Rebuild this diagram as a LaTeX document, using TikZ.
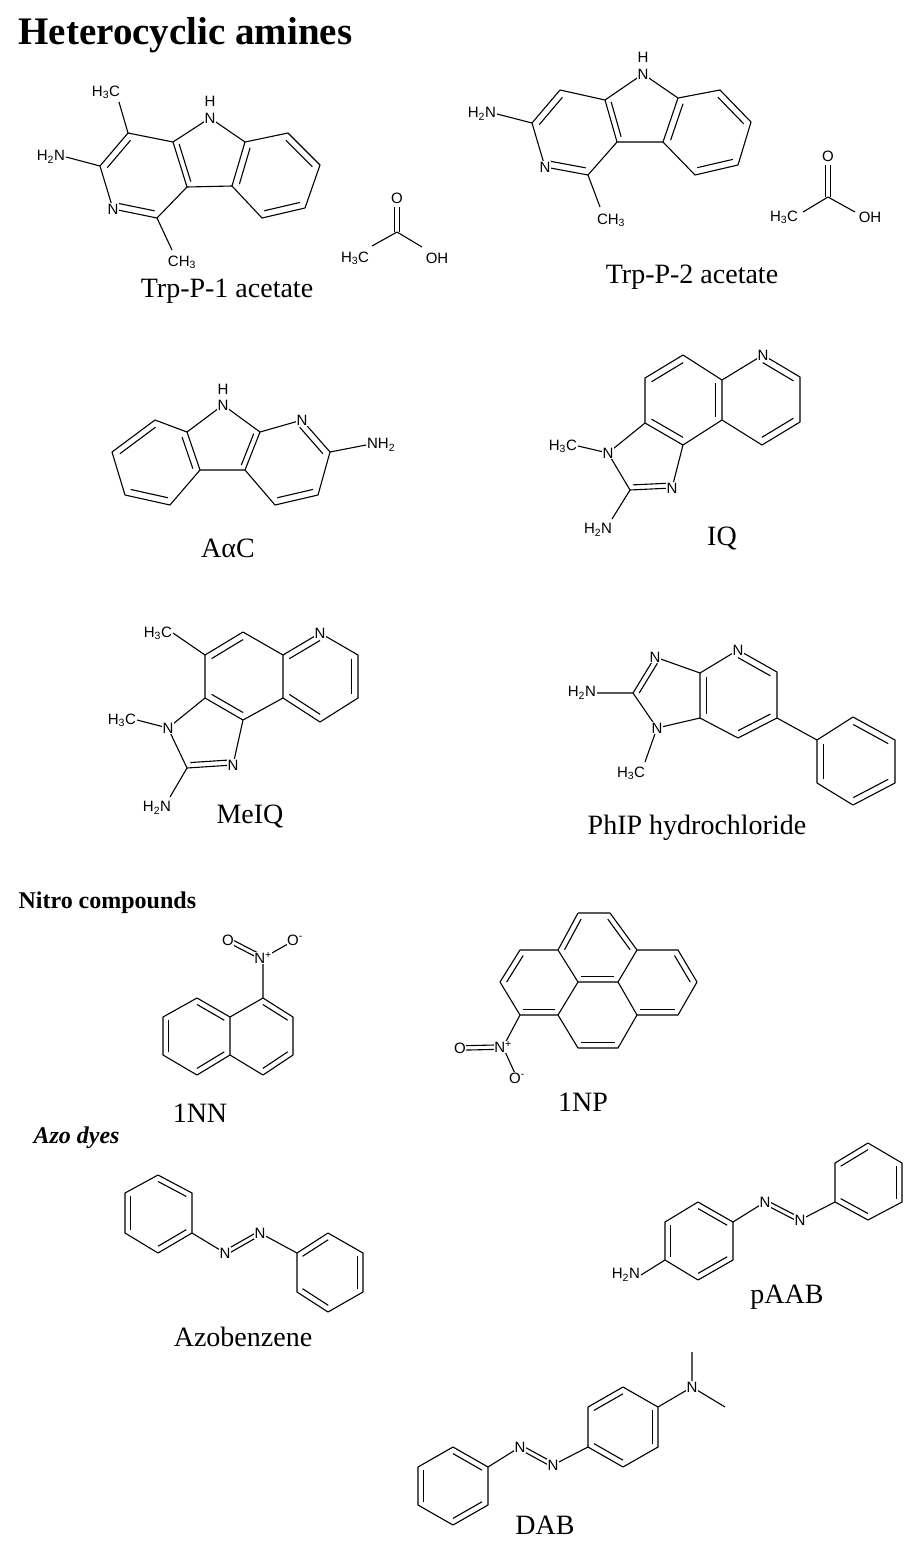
\documentclass[tikz,border=0pt]{standalone}
\usepackage{fontspec}
\setmainfont{Liberation Serif}
\newfontfamily\atomf{Liberation Sans}
\usetikzlibrary{calc}
\newcommand\db[3]{\draw ($(#1)!0.17!(#3)$) -- ($(#2)!0.17!(#3)$);}
\newcommand\dxc[2]{\draw ($(#1)!2.2pt!90:(#2)$)--($(#2)!2.2pt!-90:(#1)$); \draw ($(#1)!2.2pt!-90:(#2)$)--($(#2)!2.2pt!90:(#1)$);}
\begin{document}
\begin{tikzpicture}[x=1pt,y=-1pt,line width=1.1pt,line join=round,
  atom/.style={font=\atomf\fontsize{15}{15}\selectfont, inner sep=0.6pt, fill=white},
  mname/.style={font=\fontsize{28}{28}\selectfont, inner sep=0pt},
  mhead/.style={font=\bfseries\fontsize{24}{24}\selectfont, inner sep=0pt, anchor=west}]
\useasboundingbox (0,0) rectangle (923,1564);
\node[font=\bfseries\fontsize{39}{39}\selectfont, inner sep=0pt, anchor=west] (title) at (18,35) {Heterocyclic amines};

% ---------- Trp-P-1 ----------
\coordinate (a1) at (128,133); \coordinate (a2) at (100,166); \coordinate (a3) at (113,209);
\coordinate (a4) at (157,218); \coordinate (a5) at (187,187); \coordinate (a6) at (173,142);
\coordinate (a7) at (210,118); \coordinate (a8) at (245,142); \coordinate (a9) at (232,186);
\coordinate (b1) at (288,133); \coordinate (b2) at (320,165); \coordinate (b3) at (305,208); \coordinate (b4) at (262,218);
\coordinate (ac1) at (barycentric cs:a1=1,a2=1,a3=1,a4=1,a5=1,a6=1);
\coordinate (ac2) at (barycentric cs:a5=1,a6=1,a7=1,a8=1,a9=1);
\coordinate (ac3) at (barycentric cs:a8=1,a9=1,b1=1,b2=1,b3=1,b4=1);
\draw (a1)--(a2)--(a3)--(a4)--(a5)--(a6)--cycle (a6)--(a7)--(a8)--(a9)--(a5) (a8)--(b1)--(b2)--(b3)--(b4)--(a9);
\db{a1}{a2}{ac1}\db{a3}{a4}{ac1}\db{a5}{a6}{ac2}\db{a8}{a9}{ac3}\db{b1}{b2}{ac3}\db{b3}{b4}{ac3}
\coordinate (tm1) at (119,102); \coordinate (tn1) at (66,157); \coordinate (tm2) at (172,250);
\draw (a1)--(tm1) (a2)--(tn1) (a4)--(tm2);
\node[atom] (tN1) at (a7) {N}; \node[atom] (tH1) at (210,101) {H};
\node[atom] at (a3) {N};
\node[atom] (tm1l) at (106,92) {H\textsubscript{3}C};
\node[atom,anchor=east] (tn1l) at (tn1) {H\textsubscript{2}N};
\node[atom] (tm2l) at (182,262) {CH\textsubscript{3}};
% acetic acid 1
\coordinate (x1) at (397,232); \coordinate (x1o) at (397,207); \coordinate (x1m) at (372,246); \coordinate (x1h) at (422,247);
\dxc{x1}{x1o}\draw (x1m)--(x1)--(x1h);
\node[atom] at (397,198) {O}; \node[atom] at (355,258) {H\textsubscript{3}C}; \node[atom] at (437,258) {OH};
\node[mname] (n1) at (227,291) {Trp-P-1 acetate};

% ---------- Trp-P-2 ----------
\coordinate (p1) at (560,90); \coordinate (p2) at (532,123); \coordinate (p3) at (545,167);
\coordinate (p4) at (588,175); \coordinate (p5) at (617,142); \coordinate (p6) at (605,100);
\coordinate (p7) at (643,74); \coordinate (p8) at (678,98); \coordinate (p9) at (663,142);
\coordinate (q1) at (720,90); \coordinate (q2) at (751,122); \coordinate (q3) at (738,165); \coordinate (q4) at (695,175);
\coordinate (pc1) at (barycentric cs:p1=1,p2=1,p3=1,p4=1,p5=1,p6=1);
\coordinate (pc2) at (barycentric cs:p5=1,p6=1,p7=1,p8=1,p9=1);
\coordinate (pc3) at (barycentric cs:p8=1,p9=1,q1=1,q2=1,q3=1,q4=1);
\draw (p1)--(p2)--(p3)--(p4)--(p5)--(p6)--cycle (p6)--(p7)--(p8)--(p9)--(p5) (p8)--(q1)--(q2)--(q3)--(q4)--(p9);
\db{p1}{p2}{pc1}\db{p3}{p4}{pc1}\db{p5}{p6}{pc2}\db{p8}{p9}{pc3}\db{q1}{q2}{pc3}\db{q3}{q4}{pc3}
\coordinate (tn2) at (497,114); \coordinate (tm3) at (600,207);
\draw (p2)--(tn2) (p4)--(tm3);
\node[atom] at (p7) {N}; \node[atom] at (643,57) {H}; \node[atom] at (p3) {N};
\node[atom,anchor=east] at (tn2) {H\textsubscript{2}N};
\node[atom] at (611,220) {CH\textsubscript{3}};
% acetic acid 2
\coordinate (x2) at (828,197); \coordinate (x2o) at (828,165); \coordinate (x2m) at (803,212); \coordinate (x2h) at (855,212);
\dxc{x2}{x2o}\draw (x2m)--(x2)--(x2h);
\node[atom] at (828,156) {O}; \node[atom] at (784,217) {H\textsubscript{3}C}; \node[atom] at (870,217) {OH};
\node[mname] (n2) at (692,277) {Trp-P-2 acetate};

% ---------- AaC ----------
\coordinate (r1) at (155,420); \coordinate (r2) at (187,432); \coordinate (r3) at (200,470);
\coordinate (r4) at (170,505); \coordinate (r5) at (125,495); \coordinate (r6) at (112,452);
\coordinate (rN) at (223,405); \coordinate (s1) at (260,432); \coordinate (s2) at (245,470);
\coordinate (sN) at (302,420); \coordinate (s3) at (330,452); \coordinate (s4) at (318,495); \coordinate (s5) at (275,505);
\coordinate (rc1) at (barycentric cs:r1=1,r2=1,r3=1,r4=1,r5=1,r6=1);
\coordinate (rc2) at (barycentric cs:r2=1,r3=1,rN=1,s1=1,s2=1);
\coordinate (rc3) at (barycentric cs:s1=1,s2=1,sN=1,s3=1,s4=1,s5=1);
\draw (r1)--(r2)--(r3)--(r4)--(r5)--(r6)--cycle (r2)--(rN)--(s1)--(s2)--(r3) (s1)--(sN)--(s3)--(s4)--(s5)--(s2);
\db{r1}{r6}{rc1}\db{r2}{r3}{rc1}\db{r4}{r5}{rc1}\db{s1}{s2}{rc2}\db{sN}{s3}{rc3}\db{s4}{s5}{rc3}
\coordinate (an) at (366,445); \draw (s3)--(an);
\node[atom] at (rN) {N}; \node[atom] at (223,389) {H}; \node[atom] at (sN) {N};
\node[atom,anchor=west] at (an) {NH\textsubscript{2}};
\node[mname] at (228,548) {AαC};

% ---------- IQ ----------
\coordinate (i1) at (645,378); \coordinate (i2) at (683,355); \coordinate (i3) at (722,380);
\coordinate (i4) at (722,420); \coordinate (i5) at (683,445); \coordinate (i6) at (645,423);
\coordinate (iN) at (763,355); \coordinate (j2) at (800,377); \coordinate (j3) at (800,422); \coordinate (j4) at (762,445);
\coordinate (in1) at (608,453); \coordinate (ic2) at (630,490); \coordinate (in3) at (672,488);
\coordinate (ic1) at (barycentric cs:i1=1,i2=1,i3=1,i4=1,i5=1,i6=1);
\coordinate (icp) at (barycentric cs:i3=1,iN=1,j2=1,j3=1,j4=1,i4=1);
\coordinate (ici) at (barycentric cs:i5=1,i6=1,in1=1,ic2=1,in3=1);
\draw (i1)--(i2)--(i3)--(i4)--(i5)--(i6)--cycle (i3)--(iN)--(j2)--(j3)--(j4)--(i4) (i6)--(in1)--(ic2)--(in3)--(i5);
\db{i1}{i2}{ic1}\db{i3}{i4}{ic1}\db{i5}{i6}{ic1}\db{iN}{j2}{icp}\db{j3}{j4}{icp}\db{ic2}{in3}{ici}
\coordinate (im) at (578,446); \coordinate (ia) at (612,519);
\draw (in1)--(im) (ic2)--(ia);
\node[atom] at (iN) {N}; \node[atom] at (in1) {N}; \node[atom] at (in3) {N};
\node[atom,anchor=east] at (im) {H\textsubscript{3}C};
\node[atom] at (598,530) {H\textsubscript{2}N};
\node[mname] at (722,538) {IQ};

% ---------- MeIQ ----------
\coordinate (m1) at (205,655); \coordinate (m2) at (243,632); \coordinate (m3) at (283,655);
\coordinate (m4) at (283,698); \coordinate (m5) at (243,720); \coordinate (m6) at (205,698);
\coordinate (mN) at (320,633); \coordinate (n2) at (358,655); \coordinate (n3) at (358,698); \coordinate (n4) at (320,722);
\coordinate (mn1) at (168,728); \coordinate (mc2) at (187,768); \coordinate (mn3) at (233,765);
\coordinate (mc1) at (barycentric cs:m1=1,m2=1,m3=1,m4=1,m5=1,m6=1);
\coordinate (mcp) at (barycentric cs:m3=1,mN=1,n2=1,n3=1,n4=1,m4=1);
\coordinate (mci) at (barycentric cs:m5=1,m6=1,mn1=1,mc2=1,mn3=1);
\draw (m1)--(m2)--(m3)--(m4)--(m5)--(m6)--cycle (m3)--(mN)--(n2)--(n3)--(n4)--(m4) (m6)--(mn1)--(mc2)--(mn3)--(m5);
\db{m1}{m2}{mc1}\db{m5}{m6}{mc1}\db{m3}{mN}{mcp}\db{n2}{n3}{mcp}\db{n4}{m4}{mcp}\db{mc2}{mn3}{mci}
\coordinate (mm1) at (173,633); \coordinate (mm2) at (137,720); \coordinate (ma) at (170,797);
\draw (m1)--(mm1) (mn1)--(mm2) (mc2)--(ma);
\node[atom] at (mN) {N}; \node[atom] at (mn1) {N}; \node[atom] at (mn3) {N};
\node[atom,anchor=east] at (mm1) {H\textsubscript{3}C};
\node[atom,anchor=east] at (mm2) {H\textsubscript{3}C};
\node[atom] at (157,808) {H\textsubscript{2}N};
\node[mname] at (250,816) {MeIQ};

% ---------- PhIP ----------
\coordinate (pn3) at (655,657); \coordinate (pcc) at (633,693); \coordinate (pn1) at (657,728);
\coordinate (p7a) at (700,718); \coordinate (p3a) at (700,673);
\coordinate (pN) at (738,650); \coordinate (pp2) at (777,672); \coordinate (pp3) at (777,718); \coordinate (pp4) at (738,738);
\coordinate (h1) at (817,740); \coordinate (h2) at (853,717); \coordinate (h3) at (895,740);
\coordinate (h4) at (895,783); \coordinate (h5) at (853,805); \coordinate (h6) at (817,783);
\coordinate (hci) at (barycentric cs:pn3=1,pcc=1,pn1=1,p7a=1,p3a=1);
\coordinate (hcp) at (barycentric cs:p3a=1,pN=1,pp2=1,pp3=1,pp4=1,p7a=1);
\coordinate (hcb) at (barycentric cs:h1=1,h2=1,h3=1,h4=1,h5=1,h6=1);
\draw (pn3)--(pcc)--(pn1)--(p7a)--(p3a)--cycle (p3a)--(pN)--(pp2)--(pp3)--(pp4)--(p7a) (pp3)--(h1) (h1)--(h2)--(h3)--(h4)--(h5)--(h6)--cycle;
\db{pn3}{pcc}{hci}\db{p3a}{p7a}{hcp}\db{pN}{pp2}{hcp}\db{pp3}{pp4}{hcp}\db{h2}{h3}{hcb}\db{h4}{h5}{hcb}\db{h6}{h1}{hcb}
\coordinate (ha) at (597,693); \coordinate (hm) at (645,762);
\draw (pcc)--(ha) (pn1)--(hm);
\node[atom] at (pn3) {N}; \node[atom] at (pn1) {N}; \node[atom] at (pN) {N};
\node[atom,anchor=east] at (ha) {H\textsubscript{2}N};
\node[atom] at (631,773) {H\textsubscript{3}C};
\node[mname] at (697,828) {PhIP hydrochloride};

% ---------- Nitro compounds ----------
\node[mhead] at (18,903) {Nitro compounds};
% 1NN
\coordinate (k1) at (263,998); \coordinate (k2) at (293,1017); \coordinate (k3) at (293,1055);
\coordinate (k4) at (263,1075); \coordinate (k5) at (230,1055); \coordinate (k6) at (230,1017);
\coordinate (l1) at (197,998); \coordinate (l2) at (163,1017); \coordinate (l3) at (163,1055); \coordinate (l4) at (197,1075);
\coordinate (kc1) at (barycentric cs:k1=1,k2=1,k3=1,k4=1,k5=1,k6=1);
\coordinate (kc2) at (barycentric cs:k5=1,k6=1,l1=1,l2=1,l3=1,l4=1);
\draw (k1)--(k2)--(k3)--(k4)--(k5)--(k6)--cycle (k6)--(l1)--(l2)--(l3)--(l4)--(k5);
\db{k1}{k2}{kc1}\db{k3}{k4}{kc1}\db{k6}{l1}{kc2}\db{l2}{l3}{kc2}\db{l4}{k5}{kc2}
\coordinate (kN) at (263,958); \coordinate (kO1) at (228,940); \coordinate (kO2) at (295,940);
\draw (k1)--(kN) (kN)--(kO2); \dxc{kN}{kO1}
\node[atom] at (kN) {N\textsuperscript{+}}; \node[atom] at (kO1) {O}; \node[atom] at (kO2) {O\textsuperscript{-}};
\node[mname] at (200,1113) {1NN};
% 1NP
\coordinate (ya) at (578,913); \coordinate (yb) at (610,913); \coordinate (yc) at (637,950);
\coordinate (yd) at (678,950); \coordinate (ye) at (697,982); \coordinate (yf) at (678,1015);
\coordinate (yg) at (637,1015); \coordinate (yh) at (618,982); \coordinate (yi) at (578,982);
\coordinate (yj) at (558,950); \coordinate (yk) at (520,950); \coordinate (yl) at (500,982);
\coordinate (ym) at (520,1015); \coordinate (yn) at (558,1015); \coordinate (yo) at (578,1048); \coordinate (yp) at (618,1048);
\coordinate (yt) at (barycentric cs:ya=1,yb=1,yc=1,yh=1,yi=1,yj=1);
\coordinate (yr) at (barycentric cs:yc=1,yd=1,ye=1,yf=1,yg=1,yh=1);
\coordinate (yw) at (barycentric cs:yi=1,yh=1,yg=1,yp=1,yo=1,yn=1);
\coordinate (yL) at (barycentric cs:yk=1,yj=1,yi=1,yn=1,ym=1,yl=1);
\draw (ya)--(yb)--(yc)--(yd)--(ye)--(yf)--(yg)--(yh)--(yc) (yh)--(yi)--(yj)--(ya) (yj)--(yk)--(yl)--(ym)--(yn)--(yi) (yn)--(yo)--(yp)--(yg);
\db{yj}{ya}{yt}\db{yb}{yc}{yt}\db{yd}{ye}{yr}\db{yf}{yg}{yr}\db{yh}{yi}{yt}\db{yk}{yl}{yL}\db{ym}{yn}{yL}\db{yo}{yp}{yw}
\coordinate (yN) at (503,1047); \coordinate (yO1) at (460,1048); \coordinate (yO2) at (517,1078);
\draw (ym)--(yN)--(yO2); \dxc{yN}{yO1}
\node[atom] at (yN) {N\textsuperscript{+}}; \node[atom] at (yO1) {O}; \node[atom] at (yO2) {O\textsuperscript{-}};
\node[mname] at (583,1102) {1NP};

% ---------- Azo dyes ----------
\node[mhead, font=\bfseries\itshape\fontsize{24}{24}\selectfont] at (33,1138) {Azo dyes};
% Azobenzene
\coordinate (z1) at (158,1175); \coordinate (z2) at (192,1193); \coordinate (z3) at (192,1233);
\coordinate (z4) at (158,1253); \coordinate (z5) at (125,1233); \coordinate (z6) at (125,1193);
\coordinate (zN1) at (225,1253); \coordinate (zN2) at (260,1233);
\coordinate (w1) at (297,1253); \coordinate (w2) at (328,1233); \coordinate (w3) at (363,1253);
\coordinate (w4) at (363,1292); \coordinate (w5) at (328,1312); \coordinate (w6) at (297,1292);
\coordinate (zc) at (barycentric cs:z1=1,z2=1,z3=1,z4=1,z5=1,z6=1);
\coordinate (wc) at (barycentric cs:w1=1,w2=1,w3=1,w4=1,w5=1,w6=1);
\draw (z1)--(z2)--(z3)--(z4)--(z5)--(z6)--cycle (w1)--(w2)--(w3)--(w4)--(w5)--(w6)--cycle (z3)--(zN1) (zN2)--(w1);
\db{z1}{z2}{zc}\db{z3}{z4}{zc}\db{z5}{z6}{zc}\db{w1}{w2}{wc}\db{w3}{w4}{wc}\db{w5}{w6}{wc}
\dxc{zN1}{zN2}
\node[atom] at (zN1) {N}; \node[atom] at (zN2) {N};
\node[mname] at (243,1337) {Azobenzene};
% pAAB
\coordinate (u1) at (698,1202); \coordinate (u2) at (733,1222); \coordinate (u3) at (733,1260);
\coordinate (u4) at (698,1280); \coordinate (u5) at (665,1260); \coordinate (u6) at (665,1222);
\coordinate (uN1) at (765,1202); \coordinate (uN2) at (800,1220);
\coordinate (v1) at (835,1202); \coordinate (v2) at (835,1163); \coordinate (v3) at (868,1143);
\coordinate (v4) at (902,1163); \coordinate (v5) at (902,1202); \coordinate (v6) at (868,1220);
\coordinate (uc) at (barycentric cs:u1=1,u2=1,u3=1,u4=1,u5=1,u6=1);
\coordinate (vc) at (barycentric cs:v1=1,v2=1,v3=1,v4=1,v5=1,v6=1);
\draw (u1)--(u2)--(u3)--(u4)--(u5)--(u6)--cycle (v1)--(v2)--(v3)--(v4)--(v5)--(v6)--cycle (u2)--(uN1) (uN2)--(v1);
\db{u1}{u2}{uc}\db{u3}{u4}{uc}\db{u5}{u6}{uc}\db{v2}{v3}{vc}\db{v4}{v5}{vc}\db{v6}{v1}{vc}
\dxc{uN1}{uN2}
\coordinate (ua) at (641,1275); \draw (u5)--(ua);
\node[atom] at (uN1) {N}; \node[atom] at (uN2) {N};
\node[atom,anchor=east] at (ua) {H\textsubscript{2}N};
\node[mname] at (787,1297) {pAAB};
% DAB
\coordinate (d1) at (453,1447); \coordinate (d2) at (488,1467); \coordinate (d3) at (488,1505);
\coordinate (d4) at (453,1525); \coordinate (d5) at (418,1505); \coordinate (d6) at (418,1467);
\coordinate (dN1) at (520,1447); \coordinate (dN2) at (553,1465);
\coordinate (e1) at (588,1447); \coordinate (e2) at (588,1407); \coordinate (e3) at (623,1387);
\coordinate (e4) at (658,1407); \coordinate (e5) at (658,1447); \coordinate (e6) at (623,1467);
\coordinate (dc) at (barycentric cs:d1=1,d2=1,d3=1,d4=1,d5=1,d6=1);
\coordinate (ec) at (barycentric cs:e1=1,e2=1,e3=1,e4=1,e5=1,e6=1);
\draw (d1)--(d2)--(d3)--(d4)--(d5)--(d6)--cycle (e1)--(e2)--(e3)--(e4)--(e5)--(e6)--cycle (d2)--(dN1) (dN2)--(e1);
\db{d1}{d2}{dc}\db{d3}{d4}{dc}\db{d5}{d6}{dc}\db{e2}{e3}{ec}\db{e4}{e5}{ec}\db{e6}{e1}{ec}
\dxc{dN1}{dN2}
\coordinate (dNm) at (692,1387); \coordinate (dm1) at (692,1352); \coordinate (dm2) at (725,1407);
\draw (e4)--(dNm) (dm1)--(dNm)--(dm2);
\node[atom] at (dN1) {N}; \node[atom] at (dN2) {N}; \node[atom] at (dNm) {N};
\node[mname] at (545,1525) {DAB};
\end{tikzpicture}
\end{document}
